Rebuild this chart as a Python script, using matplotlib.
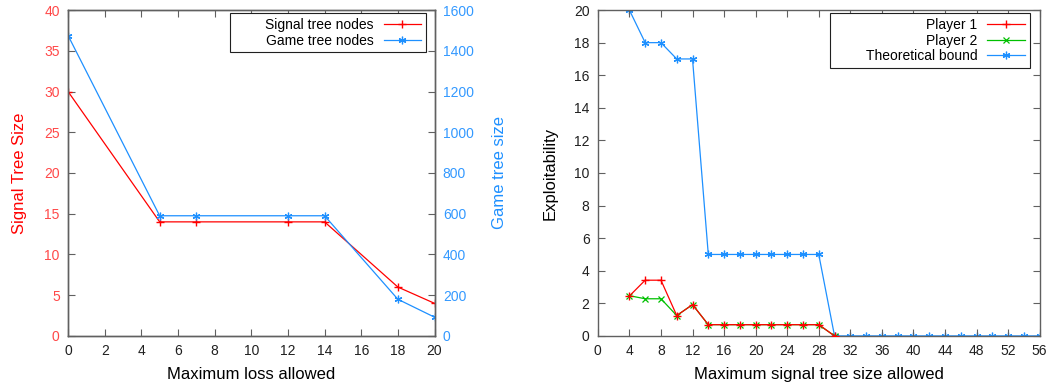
import matplotlib
matplotlib.use("Agg")
import matplotlib.pyplot as plt

plt.rcParams['font.family'] = ['Liberation Sans', 'DejaVu Sans']

# --- left chart data ---
loss_allowed = [0, 5, 7, 12, 14, 18, 20]
signal_nodes = [30, 14, 14, 14, 14, 6, 4]
game_nodes = [1475, 590, 590, 590, 590, 180, 92]

# --- right chart data ---
tree_size_players = [4, 6, 8, 10, 12, 14, 16, 18, 20, 22, 24, 26, 28, 30]
player1 = [2.45, 3.42, 3.42, 1.25, 1.92, 0.69, 0.69, 0.69, 0.69, 0.69, 0.69, 0.69, 0.69, 0]
player2 = [2.47, 2.28, 2.28, 1.25, 1.92, 0.69, 0.69, 0.69, 0.69, 0.69, 0.69, 0.69, 0.69, 0]
tree_size_bound = [4, 6, 8, 10, 12, 14, 16, 18, 20, 22, 24, 26, 28, 30, 32, 34, 36, 38,
                   40, 42, 44, 46, 48, 50, 52, 54, 56]
bound = [20, 18, 18, 17, 17, 5, 5, 5, 5, 5, 5, 5, 5, 0, 0, 0, 0, 0,
         0, 0, 0, 0, 0, 0, 0, 0, 0]

RED = '#ff0000'
RED_TXT = '#ff4848'
BLUE = '#1e90ff'
BLUE_TXT = '#3399ff'
GREEN = '#00c000'
FRAME = '#606060'
STAR = (6, 2, 0)
PAD = '\u00a0' * 8  # gnuplot keys leave blank room left of the text


def style_frame(ax):
    for s in ax.spines.values():
        s.set_color(FRAME)
        s.set_linewidth(1.0)


def key(ax, handles, labels):
    # gnuplot-like key: text right-aligned, sample line on the right
    leg = ax.legend(handles, labels, loc='upper right', bbox_to_anchor=(0.977, 0.991),
                    borderaxespad=0, markerfirst=False, fancybox=False,
                    edgecolor='#202020', fontsize=10, handlelength=2.7,
                    handletextpad=0.7, labelspacing=0.12, borderpad=0.35, framealpha=1)
    leg.get_frame().set_linewidth(0.8)
    return leg


fig = plt.figure(figsize=(10.47, 3.87), dpi=100)

# ---- left panel ----
ax1 = fig.add_axes([0.065, 0.132, 0.35, 0.842])
ax2 = ax1.twinx()
style_frame(ax1)
style_frame(ax2)

l1, = ax1.plot(loss_allowed, signal_nodes, color=RED, lw=0.9, marker='+', ms=6, mew=1.0)
l2, = ax2.plot(loss_allowed, game_nodes, color=BLUE, lw=0.9, marker=STAR, ms=5.5, mew=0.9)
ax1.set_xlim(0, 20)
ax1.set_ylim(0, 40)
ax2.set_ylim(0, 1600)
ax1.set_xticks(range(0, 21, 2))
ax1.set_yticks(range(0, 41, 5))
ax2.set_yticks(range(0, 1601, 200))
ax1.tick_params(axis='x', direction='in', top=True, length=5, color=FRAME, labelsize=10,
                labelcolor='#202020', pad=6)
ax1.tick_params(axis='y', direction='in', length=5, color=FRAME, labelsize=10,
                labelcolor=RED_TXT, pad=6)
ax2.tick_params(axis='y', direction='in', length=5, color=FRAME, labelsize=10,
                labelcolor=BLUE_TXT, pad=6)
ax1.set_xlabel('Maximum loss allowed', fontsize=12, labelpad=6)
ax1.set_ylabel('Signal Tree Size', fontsize=12, color=RED, labelpad=12)
ax2.set_ylabel('Game tree size', fontsize=12, color=BLUE, labelpad=13)
key(ax2, [l1, l2], [PAD + 'Signal tree nodes', 'Game tree nodes'])

# ---- right panel ----
ax3 = fig.add_axes([0.571, 0.132, 0.422, 0.842])
style_frame(ax3)
p1, = ax3.plot(tree_size_players, player1, color=RED, lw=0.9, marker='+', ms=6, mew=1.0,
               zorder=3)
p2, = ax3.plot(tree_size_players, player2, color=GREEN, lw=0.9, marker='x', ms=4.5, mew=0.9,
               zorder=2)
p3, = ax3.plot(tree_size_bound, bound, color=BLUE, lw=0.9, marker=STAR, ms=5.5, mew=0.9,
               zorder=1)
ax3.set_xlim(0, 56)
ax3.set_ylim(0, 20)
ax3.set_xticks(range(0, 57, 4))
ax3.set_yticks(range(0, 21, 2))
ax3.tick_params(direction='in', top=True, right=True, length=5, color=FRAME, labelsize=10,
                labelcolor='#202020', pad=6)
ax3.set_xlabel('Maximum signal tree size allowed', fontsize=12, labelpad=6)
ax3.set_ylabel('Exploitability', fontsize=12, labelpad=12)
key(ax3, [p1, p2, p3], ['Player 1', 'Player 2', PAD + 'Theoretical bound'])

fig.savefig('out.png', dpi=100)
